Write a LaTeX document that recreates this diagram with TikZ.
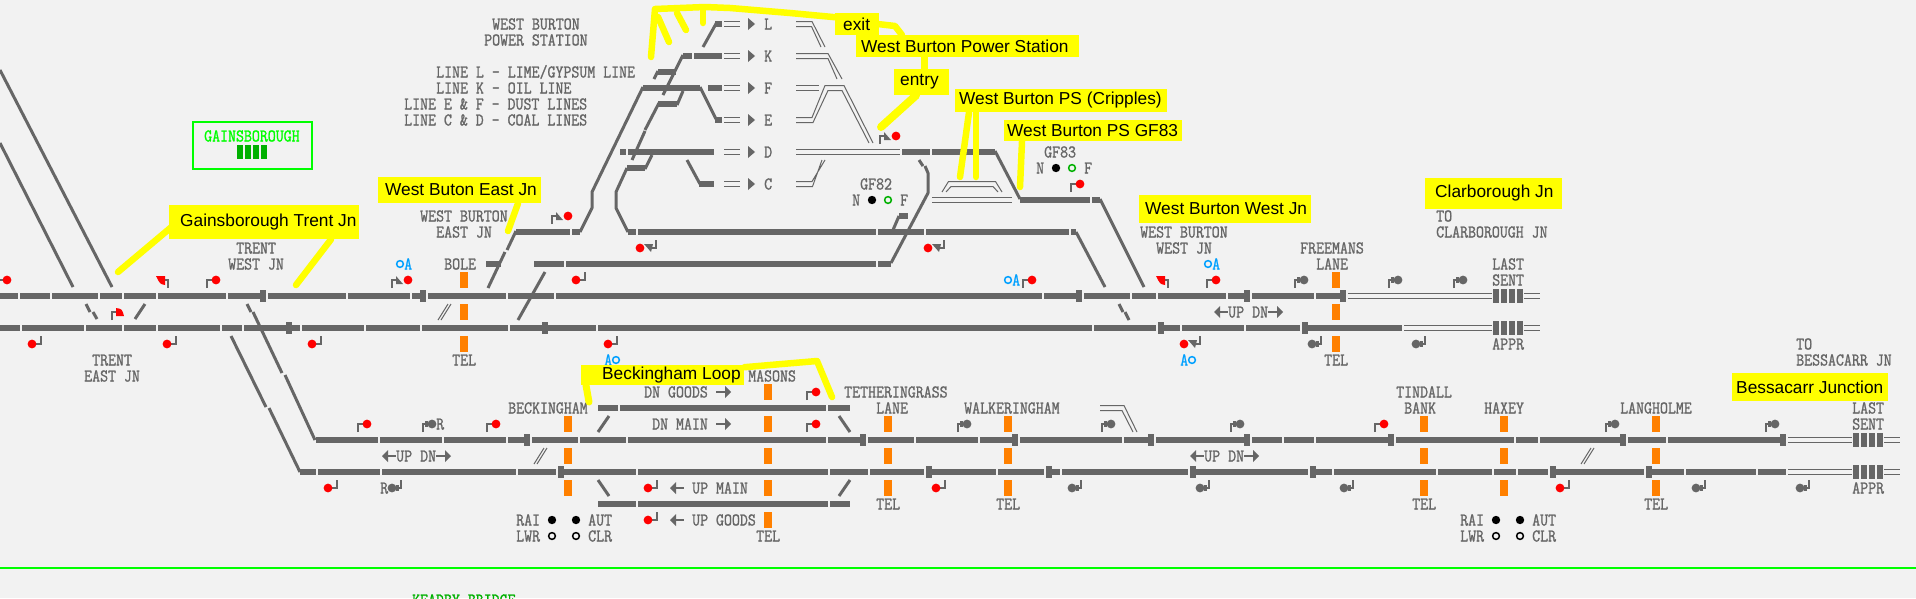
\documentclass[tikz,border=0pt]{standalone}
\usepackage{fontspec}
\setmainfont{Liberation Sans}
\newfontfamily\pix[FakeStretch=0.858,FakeBold=1.2]{Latin Modern Mono}
\definecolor{gr}{HTML}{666666}
\definecolor{bgc}{HTML}{F2F2F2}
\definecolor{orng}{HTML}{FF8000}
\definecolor{bluec}{HTML}{00A0FF}
\definecolor{grn}{HTML}{00FF00}
\definecolor{dkg}{HTML}{00B000}
\definecolor{ylw}{HTML}{FFFF00}
\newcounter{tn}
\tikzset{
 x=1pt,y=-1pt,
 trackseg/.style={line width=6pt,gr},
 dg/.style={line width=3pt,gr},
 th/.style={line width=1pt,gr},
 leader/.style={line width=6.5pt,ylw,line cap=round},
 post/.style={line width=2pt,gr},
 mono/.style={inner sep=0pt,anchor=base west,text=gr,font=\pix\fontsize{18}{18}\selectfont},
 lab/.style={fill=ylw,inner sep=0pt,anchor=north west,text=black,align=left,font=\fontsize{17.3}{18}\selectfont},
}
% text at x (left), row centre y
\newcommand{\mt}[3]{\stepcounter{tn}\node[mono] (t\thetn) at (#1,#2+5.5) {#3};}
\newcommand{\mtc}[4]{\stepcounter{tn}\node[mono,text=#1] (t\thetn) at (#2,#3+5.5) {#4};}
\newcommand{\trk}[2]{\foreach \a/\b in {#2}{\draw[trackseg] (\a,#1)--(\b,#1);}}
\newcommand{\tbars}[2]{\foreach \a in {#2}{\fill[gr] (\a,#1-6) rectangle (\a+6,#1+6);}}
\newcommand{\thn}[3]{\draw[th] (#1,#3-2.5)--(#2,#3-2.5) (#1,#3+2.5)--(#2,#3+2.5);}
\newcommand{\lastblk}[2]{\foreach \d in {0,8,16,24}{\fill[gr] (#1+\d,#2-7) rectangle (#1+\d+6,#2+7);}}
\newcommand{\org}[2]{\foreach \t in {#2}{\fill[orng] (#1,\t) rectangle (#1+8,\t+16);}}
% signals: dot at x,y
\newcommand{\sigR}[3]{\draw[post] (#1-9,#2+8)--(#1-9,#2)--(#1,#2); \fill[#3] (#1,#2) circle (4.4);}
\newcommand{\sigL}[3]{\draw[post] (#1+9,#2-8)--(#1+9,#2)--(#1,#2); \fill[#3] (#1,#2) circle (4.4);}
\newcommand{\sigRG}[2]{\sigR{#1}{#2}{gr}\fill[gr] (#1-7,#2-3) rectangle (#1-4,#2+3);}
\newcommand{\sigLG}[2]{\sigL{#1}{#2}{gr}\fill[gr] (#1+4,#2-3) rectangle (#1+7,#2+3);}
\newcommand{\sigRT}[2]{\draw[post] (#1-16,#2+8)--(#1-16,#2)--(#1-11,#2); \fill[gr] (#1-12,#2-4)--(#1-5,#2+4)--(#1-12,#2+4)--cycle; \fill[red] (#1,#2) circle (4.4);}
\newcommand{\sigLT}[2]{\draw[post] (#1+16,#2-8)--(#1+16,#2)--(#1+10,#2); \fill[gr] (#1+4,#2-4)--(#1+13,#2-4)--(#1+11,#2+4)--cycle; \fill[red] (#1,#2) circle (4.4);}
\newcommand{\shuntA}[2]{\draw[post] (#1-4,#2)--(#1,#2)--(#1,#2+8); \fill[red] (#1-12,#2-4)--(#1-3,#2-4)--(#1-3,#2+5) .. controls (#1-8,#2+4) .. cycle;}
\newcommand{\shuntB}[2]{\draw[post] (#1,#2+8)--(#1,#2)--(#1+4,#2); \fill[red] (#1+4,#2-4) .. controls (#1+10,#2-3) .. (#1+12,#2+4)--(#1+4,#2+4)--cycle;}
\newcommand{\arL}[3]{\fill[gr] (#1,#3)--(#1+6,#3-6)--(#1+6,#3+6)--cycle; \draw[post] (#1+5,#3)--(#2,#3);}
\newcommand{\arR}[3]{\fill[gr] (#1,#3)--(#1-6,#3-6)--(#1-6,#3+6)--cycle; \draw[post] (#1-5,#3)--(#2,#3);}
\newcommand{\rowtri}[1]{\fill[gr] (748,#1-6)--(755,#1)--(748,#1+6)--cycle; \thn{724}{740}{#1}}
\newcommand{\dslash}[2]{\draw[th] (#1,#2+16)--(#1+10,#2) (#1+3,#2+16)--(#1+13,#2);}
\newcommand{\lampb}[2]{\fill[black] (#1,#2) circle (4.2);}
\newcommand{\lampo}[3]{\draw[#3,line width=1.5pt] (#1,#2) circle (3.4);}
\begin{document}
\begin{tikzpicture}
\useasboundingbox (0,0) rectangle (1916,598);
\fill[bgc] (0,0) rectangle (1916,598);
\clip (0,0) rectangle (1916,598);
% ---- main tracks
\trk{296}{0/18,20/50,52/98,100/122,124/156,158/226,228/261,268/346,348/410,412/421,428/506,508/554,556/1042,1044/1077,1084/1130,1132/1156,1158/1226,1228/1245,1252/1314,1316/1341}
\tbars{296}{260,420,1076,1244,1340}
\trk{328}{0/20,22/84,86/122,124/156,158/220,222/242,244/287,291/300,302/364,366/420,422/508,510/543,547/596,598/1092,1094/1156,1163/1180,1182/1244,1246/1300,1307/1402}
\tbars{328}{286,542,1158,1302}
\trk{440}{316/378,380/442,444/506,508/525,532/578,580/626,628/826,828/861,868/914,916/978,980/1013,1020/1122,1124/1149,1156/1245,1252/1282,1284/1314,1316/1388,1396/1514,1516/1538,1540/1621,1628/1666,1668/1781}
\tbars{440}{524,860,1012,1148,1244,1388,1620,1780}
\trk{472}{300/316,318/380,382/516,518/556,563/636,638/828,830/868,870/924,931/996,998/1044,1051/1060,1062/1188,1195/1308,1315/1332,1334/1436,1438/1492,1494/1516,1518/1548,1555/1644,1651/1684,1686/1756,1758/1786}
\tbars{472}{558,926,1046,1190,1310,1550,1646}
\trk{408}{598/618,620/826,828/850}
\trk{504}{598/636,638/828,830/850}
% thin approach lines and block indicators
\thn{1348}{1492}{296}\thn{1404}{1492}{328}\thn{1524}{1540}{296}\thn{1524}{1540}{328}
\lastblk{1493}{296}\lastblk{1493}{328}
\thn{1788}{1852}{440}\thn{1788}{1852}{472}\thn{1884}{1900}{440}\thn{1884}{1900}{472}
\lastblk{1853}{440}\lastblk{1853}{472}
% ---- power station blocks
\trk{24}{715/722}
\trk{56}{683/692,694/722}
\trk{72}{658/676}
\trk{88}{643/700,708/722}
\trk{104}{658/677}
\trk{120}{715/722}
\trk{152}{620/626,628/714,902/930,932/995}
\trk{168}{627/645}
\trk{184}{699/714}
\trk{200}{1020/1090,1092/1100}
\trk{216}{899/908}
\trk{232}{516/570,572/580,628/636,638/876,878/924,926/1069,1071/1076}
\trk{264}{486/501,534/564,566/876,878/891}
\foreach \r in {24,56,88,120,152,184}{\rowtri{\r}}
% ---- thick diagonals
\begin{scope}[line join=bevel]
\draw[dg] (717,22)--(703,47);
\draw[dg] (683,55)--(663,95);
\draw[dg] (658,71)--(654,79);
\draw[dg] (643,87)--(592,192)--(592,208)--(580,232);
\draw[dg] (700,87)--(716,119);
\draw[dg] (683,91)--(677,105);
\draw[dg] (659,103)--(645,130);
\draw[dg] (645,131)--(632,160);
\draw[dg] (652,155)--(645,169);
\draw[dg] (627,168)--(616,192)--(616,208)--(628,232);
\draw[dg] (687,160)--(700,184);
\draw[dg] (899,216)--(893,230);
\draw[dg] (891,263)--(928,193)--(928,173)--(925,166);
\draw[dg] (923,166)--(919,160);
\draw[dg] (995,151)--(1020,199);
\draw[dg] (1100,199)--(1144,287);
\draw[dg] (1076,232)--(1105,287);
\draw[dg] (516,231)--(507,250);
\draw[dg] (505,252)--(488,288);
\draw[dg] (545,272)--(518,320);
\draw[dg] (0,70)--(112,287);
\draw[dg] (0,143)--(73,287);
\draw[dg] (86,304)--(90,312);
\draw[dg] (93,312)--(97,319);
\draw[dg] (145,304)--(135,319);
\draw[dg] (247,304)--(251,312);
\draw[dg] (253,312)--(282,373);
\draw[dg] (285,375)--(315,440);
\draw[dg] (231,336)--(266,407);
\draw[dg] (269,408)--(300,472);
\draw[dg] (1119,304)--(1123,312);
\draw[dg] (1125,312)--(1129,320);
\draw[dg] (598,432)--(609,416);
\draw[dg] (850,432)--(839,416);
\draw[dg] (598,480)--(609,496);
\draw[dg] (850,480)--(839,496);
\end{scope}
% ---- thin double diagonals
\draw[th] (796,21.5)--(812,21.5)--(825,47) (796,26.5)--(811.5,26.5)--(821,47);
\draw[th] (796,53.5)--(828,53.5)--(842,79) (796,58.5)--(828,58.5)--(837,79);
\draw[th] (796,85.5)--(819,85.5) (796,90.5)--(819,90.5);
\draw[th] (796,117.5)--(812,117.5)--(825,85.5)--(844,85.5)--(873,143);
\draw[th] (796,122.5)--(813,122.5)--(828,90.5)--(842,90.5)--(869,143);
\draw[th] (796,149.5)--(900,149.5) (796,154.5)--(900,154.5);
\draw[th] (796,181.5)--(812,181.5)--(825,160) (796,186.5)--(812.5,186.5)--(822,160);
\draw[th] (932,197.5)--(1012,197.5) (932,202.5)--(1012,202.5);
\draw[th] (942,192)--(948.5,181.5)--(995.5,181.5)--(1002,192) (946,192)--(951,186.5)--(993,186.5)--(998,192);
\draw[th] (1100,405.5)--(1124,405.5)--(1137,432) (1100,410.5)--(1122,410.5)--(1133,432);
\dslash{438}{304}\dslash{534}{448}\dslash{1581}{448}
% ---- orange markers
\org{460}{272,304,336}
\org{564}{416,448,480}
\org{764}{384,416,448,480,512}
\org{884}{416,448,480}
\org{1004}{416,448,480}
\org{1332}{272,304,336}
\org{1420}{416,448,480}
\org{1500}{416,448,480}
\org{1652}{416,448,480}
% ---- signals
\sigR{7}{280}{red}\shuntA{168}{280}\sigR{216}{280}{red}\sigRT{408}{280}
\sigL{576}{280}{red}\sigRT{568}{216}\sigLT{640}{248}\sigLT{928}{248}\sigRT{896}{136}
\sigR{1080}{184}{red}\sigR{1032}{280}{red}\shuntA{1168}{280}\sigR{1216}{280}{red}
\sigRG{1304}{280}\sigRG{1398}{280}\sigRG{1463}{280}
\shuntB{112}{312}
\sigL{32}{344}{red}\sigL{167}{344}{red}\sigL{312}{344}{red}\sigL{608}{344}{red}
\sigLT{1184}{344}\sigLG{1312}{344}\sigLG{1416}{344}
\sigR{367}{424}{red}\sigRG{432}{424}\sigR{496}{424}{red}
\sigR{816}{392}{red}\sigR{816}{424}{red}\sigRG{967}{424}\sigRG{1111}{424}\sigRG{1240}{424}
\sigR{1384}{424}{red}\sigRG{1615}{424}\sigRG{1775}{424}
\sigL{328}{488}{red}\sigLG{392}{488}\sigL{648}{488}{red}\sigL{936}{488}{red}
\sigLG{1072}{488}\sigLG{1200}{488}\sigLG{1344}{488}\sigL{1560}{488}{red}\sigLG{1696}{488}\sigLG{1800}{488}
\sigL{648}{520}{red}
% ---- direction arrows
\arL{382}{396}{456}\arR{451}{436}{456}
\arL{1214}{1228}{312}\arR{1283}{1268}{312}
\arL{1190}{1204}{456}\arR{1259}{1244}{456}
\arR{731}{716}{392}\arR{731}{716}{424}\arL{670}{684}{488}\arL{670}{684}{520}
% ---- lamps
\foreach \p/\q in {552/576,1496/1520}{\lampb{\p}{520}\lampb{\q}{520}\lampo{\p}{536}{black}\lampo{\q}{536}{black}}
\lampb{872}{200}\lampo{888}{200}{dkg}\lampb{1056}{168}\lampo{1072}{168}{dkg}
% ---- blue ARS marks
\lampo{400}{264}{bluec}\mtc{bluec}{404}{264}{A}
\lampo{1008}{280}{bluec}\mtc{bluec}{1012}{280}{A}
\lampo{1208}{264}{bluec}\mtc{bluec}{1212}{264}{A}
\mtc{bluec}{604}{360}{A}\lampo{616}{360}{bluec}
\mtc{bluec}{1180}{360}{A}\lampo{1192}{360}{bluec}
% ---- text
\mt{492}{24}{WEST BURTON}\mt{484}{40}{POWER STATION}
\mt{436}{72}{LINE L - LIME/GYPSUM LINE}\mt{436}{88}{LINE K - OIL LINE}
\mt{404}{104}{LINE E \& F - DUST LINES}\mt{404}{120}{LINE C \& D - COAL LINES}
\mt{764}{24}{L}\mt{764}{56}{K}\mt{764}{88}{F}\mt{764}{120}{E}\mt{764}{152}{D}\mt{764}{184}{C}
\mt{236}{248}{TRENT}\mt{228}{264}{WEST JN}
\mt{444}{264}{BOLE}\mt{420}{216}{WEST BURTON}\mt{436}{232}{EAST JN}
\mt{452}{360}{TEL}\mt{92}{360}{TRENT}\mt{84}{376}{EAST JN}
\mt{508}{408}{BECKINGHAM}\mt{436}{424}{R}\mt{380}{488}{R}
\mt{396}{456}{UP}\mt{420}{456}{DN}
\mt{516}{520}{RAI}\mt{516}{536}{LWR}\mt{588}{520}{AUT}\mt{588}{536}{CLR}
\mt{860}{184}{GF82}\mt{852}{200}{N}\mt{900}{200}{F}
\mt{1044}{152}{GF83}\mt{1036}{168}{N}\mt{1084}{168}{F}
\mt{1140}{232}{WEST BURTON}\mt{1156}{248}{WEST JN}
\mt{1300}{248}{FREEMANS}\mt{1316}{264}{LANE}\mt{1324}{360}{TEL}
\mt{1436}{216}{TO}\mt{1436}{232}{CLARBOROUGH JN}
\mt{1492}{264}{LAST}\mt{1492}{280}{SENT}\mt{1492}{344}{APPR}
\mt{1228}{312}{UP}\mt{1252}{312}{DN}
\mt{644}{392}{DN GOODS}\mt{652}{424}{DN MAIN}\mt{692}{488}{UP MAIN}\mt{692}{520}{UP GOODS}
\mt{748}{376}{MASONS}\mt{756}{536}{TEL}
\mt{844}{392}{TETHERINGRASS}\mt{876}{408}{LANE}\mt{964}{408}{WALKERINGHAM}
\mt{876}{504}{TEL}\mt{996}{504}{TEL}
\mt{1204}{456}{UP}\mt{1228}{456}{DN}
\mt{1396}{392}{TINDALL}\mt{1404}{408}{BANK}\mt{1484}{408}{HAXEY}\mt{1620}{408}{LANGHOLME}
\mt{1412}{504}{TEL}\mt{1644}{504}{TEL}
\mt{1460}{520}{RAI}\mt{1460}{536}{LWR}\mt{1532}{520}{AUT}\mt{1532}{536}{CLR}
\mt{1852}{408}{LAST}\mt{1852}{424}{SENT}\mt{1852}{488}{APPR}
\mt{1796}{344}{TO}\mt{1796}{360}{BESSACARR JN}
% ---- Gainsborough box
\node[draw=grn,line width=2pt,minimum width=119pt,minimum height=47pt,inner sep=0pt,anchor=north west] (gbox) at (191.5,120.5) {};
\mtc{grn}{204}{136}{GAINSBOROUGH}
\foreach \b in {237,245,253,261}{\fill[dkg] (\b,145) rectangle (\b+6,159);}
% ---- green divider and next panel title
\coordinate (dl) at (0,568); \coordinate (dr) at (1916,568);
\draw[grn,line width=2pt] (dl)--(dr);
\mtc{dkg}{412}{600}{KEADBY BRIDGE}
% ---- yellow annotations
\newcommand{\ylab}[7]{\node[lab,minimum width=#4pt-#2pt,minimum height=#5pt-#3pt] (#1) at (#2,#3) {};
 \node[inner sep=0pt,anchor=west,text=black,font=\fontsize{17.3}{18}\selectfont] (#1t) at (#6,{(#3+#5)/2}) {#7};}
\coordinate (e1) at (118,272); \coordinate (e2) at (296,285); \coordinate (e3) at (508,231);
\coordinate (e4) at (651,57); \coordinate (e5) at (669,42); \coordinate (e6) at (686,30); \coordinate (e7) at (703,23);
\coordinate (e8) at (881,127); \coordinate (e9) at (960,177); \coordinate (e10) at (976,177); \coordinate (e11) at (1020,187);
\coordinate (e12) at (589,402); \coordinate (e13) at (832,397);
\coordinate (top) at (655,9);
\ylab{gtj}{169}{205}{359}{239}{180}{Gainsborough Trent Jn}
\ylab{wbe}{378}{177}{541}{203}{385}{West Buton East Jn}
\ylab{wbps}{856}{35}{1079}{57}{861}{West Burton Power Station}
\ylab{exit}{835}{13}{879}{35}{843}{exit}
\ylab{entry}{894}{69}{949}{95}{900}{entry}
\ylab{crip}{955}{89}{1167}{112}{959}{West Burton PS (Cripples)}
\ylab{gf}{1004}{120}{1182}{141}{1007}{West Burton PS GF83}
\ylab{wbw}{1139}{195}{1311}{223}{1145}{West Burton West Jn}
\ylab{cla}{1425}{178}{1562}{209}{1435}{Clarborough Jn}
\ylab{bes}{1732}{373}{1888}{401}{1736}{Bessacarr Junction}
\ylab{bec}{581}{365}{744}{385}{602}{Beckingham Loop}
\draw[leader] (gtj.south west)++(2,-12)--(e1);
\draw[leader] (gtj.south west)++(162,0)--(e2);
\draw[leader] (wbe.south west)++(140,0)--(e3);
\draw[leader,line join=round] (exit.west)++(0,-7)--(790,13)--(730,8)--(705,7)--(top)--(e4);
\draw[leader] (658,17)--(e5);
\draw[leader] (677,13)--(e6);
\draw[leader] (703,8)--(e7);
\draw[leader,line join=round] (exit.east)--(895,26)--(902,35);
\draw[leader,line width=7pt] (wbps.south west)++(68,0)--([xshift=30pt]entry.north west);
\draw[leader,line width=8pt] (entry.south west)++(22,0)--(e8);
\draw[leader] (crip.south west)++(14,0)--(e9);
\draw[leader] (crip.south west)++(21,0)--(e10);
\draw[leader] (gf.south west)++(18,0)--(e11);
\draw[leader,line width=7pt] (bec.south west)++(5,0)--(e12);
\draw[leader,line join=round] (bec.east)++(0,-8)--(817,361)--(e13);
\end{tikzpicture}
\end{document}
